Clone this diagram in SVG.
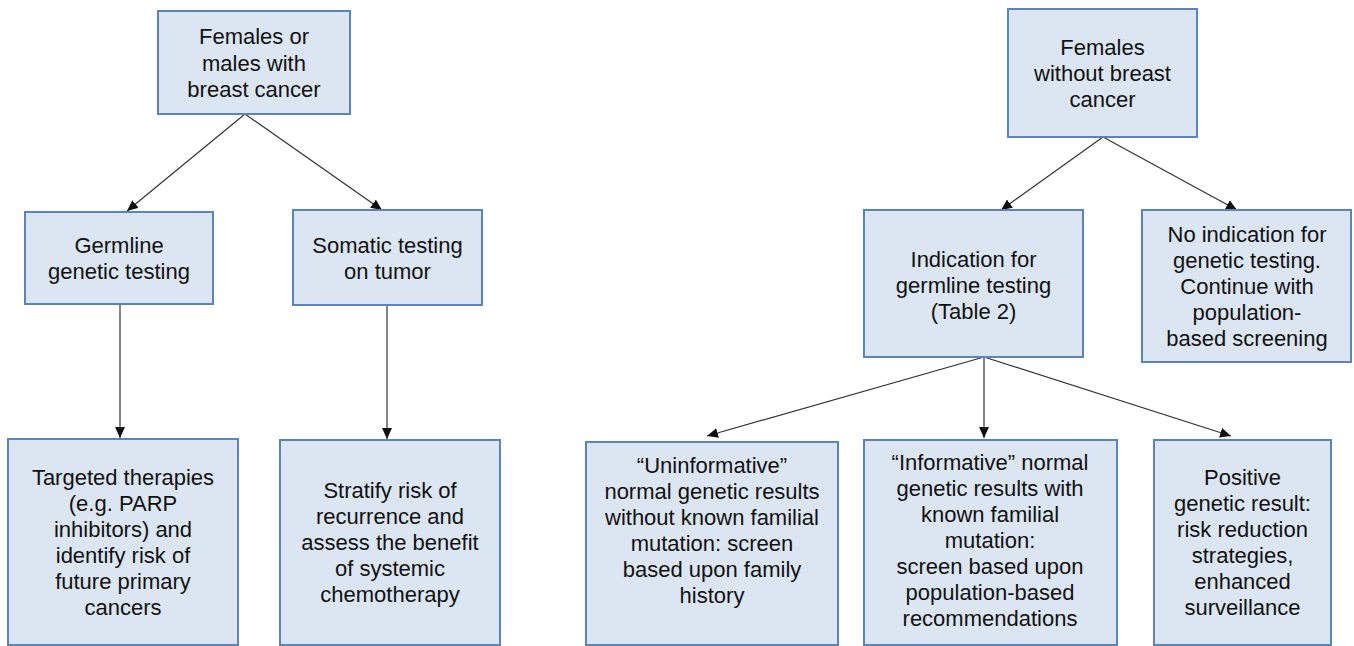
<svg xmlns="http://www.w3.org/2000/svg" width="1354" height="646" viewBox="0 0 1354 646">
<style>
.box{fill:#dce6f2;stroke:#5a84bb;stroke-width:2}
.t{font-family:"Liberation Sans",Arial,sans-serif;font-size:22px;fill:#111;text-anchor:middle}
.c{stroke:#333;stroke-width:1.2;fill:none;marker-end:url(#ah)}
</style>
<defs>
<marker id="ah" markerUnits="userSpaceOnUse" markerWidth="12" markerHeight="10" refX="11" refY="5" orient="auto">
<path d="M0,0 L11,5 L0,10 Z" fill="#111"/>
</marker>
</defs>
<rect width="1354" height="646" fill="#fff"/>
<g id="connectors">
<line class="c" x1="245" y1="114" x2="127" y2="211"/>
<line class="c" x1="245" y1="114" x2="382" y2="210"/>
<line class="c" x1="120" y1="304" x2="120" y2="438"/>
<line class="c" x1="387" y1="305" x2="387" y2="439"/>
<line class="c" x1="1103" y1="137" x2="1001" y2="210"/>
<line class="c" x1="1103" y1="137" x2="1237" y2="210"/>
<line class="c" x1="984" y1="357" x2="707" y2="436"/>
<line class="c" x1="984" y1="357" x2="984" y2="438"/>
<line class="c" x1="984" y1="357" x2="1231" y2="436"/>
</g>
<g id="n_with_cancer">
<rect class="box" x="158" y="11" width="192" height="103"/>
<text class="t" x="254"><tspan x="254" y="44">Females or</tspan><tspan x="254" y="70.5">males with</tspan><tspan x="254" y="97">breast cancer</tspan></text>
</g>
<g id="n_germline">
<rect class="box" x="25" y="212" width="188" height="92"/>
<text class="t"><tspan x="119" y="253">Germline</tspan><tspan x="119" y="279">genetic testing</tspan></text>
</g>
<g id="n_somatic">
<rect class="box" x="293" y="210" width="189" height="95"/>
<text class="t"><tspan x="387.5" y="253">Somatic testing</tspan><tspan x="387.5" y="279">on tumor</tspan></text>
</g>
<g id="n_targeted">
<rect class="box" x="8" y="439" width="230" height="206"/>
<text class="t"><tspan x="123" y="485">Targeted therapies</tspan><tspan x="123" y="511">(e.g. PARP</tspan><tspan x="123" y="537">inhibitors) and</tspan><tspan x="123" y="563">identify risk of</tspan><tspan x="123" y="589">future primary</tspan><tspan x="123" y="615">cancers</tspan></text>
</g>
<g id="n_stratify">
<rect class="box" x="280" y="440" width="220" height="205"/>
<text class="t"><tspan x="390" y="498">Stratify risk of</tspan><tspan x="390" y="524">recurrence and</tspan><tspan x="390" y="550">assess the benefit</tspan><tspan x="390" y="576">of systemic</tspan><tspan x="390" y="602">chemotherapy</tspan></text>
</g>
<g id="n_without_cancer">
<rect class="box" x="1008" y="9" width="189" height="128"/>
<text class="t"><tspan x="1102.5" y="55">Females</tspan><tspan x="1102.5" y="81">without breast</tspan><tspan x="1102.5" y="107">cancer</tspan></text>
</g>
<g id="n_indication">
<rect class="box" x="864" y="210" width="219" height="147"/>
<text class="t"><tspan x="973.5" y="267">Indication for</tspan><tspan x="973.5" y="293">germline testing</tspan><tspan x="973.5" y="319">(Table 2)</tspan></text>
</g>
<g id="n_no_indication">
<rect class="box" x="1142" y="210" width="209" height="152"/>
<text class="t"><tspan x="1247" y="242">No indication for</tspan><tspan x="1247" y="268">genetic testing.</tspan><tspan x="1247" y="294">Continue with</tspan><tspan x="1247" y="320">population-</tspan><tspan x="1247" y="346">based screening</tspan></text>
</g>
<g id="n_uninformative">
<rect class="box" x="586" y="442" width="252" height="203"/>
<text class="t"><tspan x="712" y="473">“Uninformative”</tspan><tspan x="712" y="499">normal genetic results</tspan><tspan x="712" y="525">without known familial</tspan><tspan x="712" y="551">mutation: screen</tspan><tspan x="712" y="577">based upon family</tspan><tspan x="712" y="603">history</tspan></text>
</g>
<g id="n_informative">
<rect class="box" x="864" y="440" width="253" height="205"/>
<text class="t"><tspan x="990" y="470">“Informative” normal</tspan><tspan x="990" y="496">genetic results with</tspan><tspan x="990" y="522">known familial</tspan><tspan x="990" y="548">mutation:</tspan><tspan x="990" y="574">screen based upon</tspan><tspan x="990" y="600">population-based</tspan><tspan x="990" y="626">recommendations</tspan></text>
</g>
<g id="n_positive">
<rect class="box" x="1154" y="440" width="177" height="205"/>
<text class="t"><tspan x="1242.5" y="485">Positive</tspan><tspan x="1242.5" y="511">genetic result:</tspan><tspan x="1242.5" y="537">risk reduction</tspan><tspan x="1242.5" y="563">strategies,</tspan><tspan x="1242.5" y="589">enhanced</tspan><tspan x="1242.5" y="615">surveillance</tspan></text>
</g>
</svg>
